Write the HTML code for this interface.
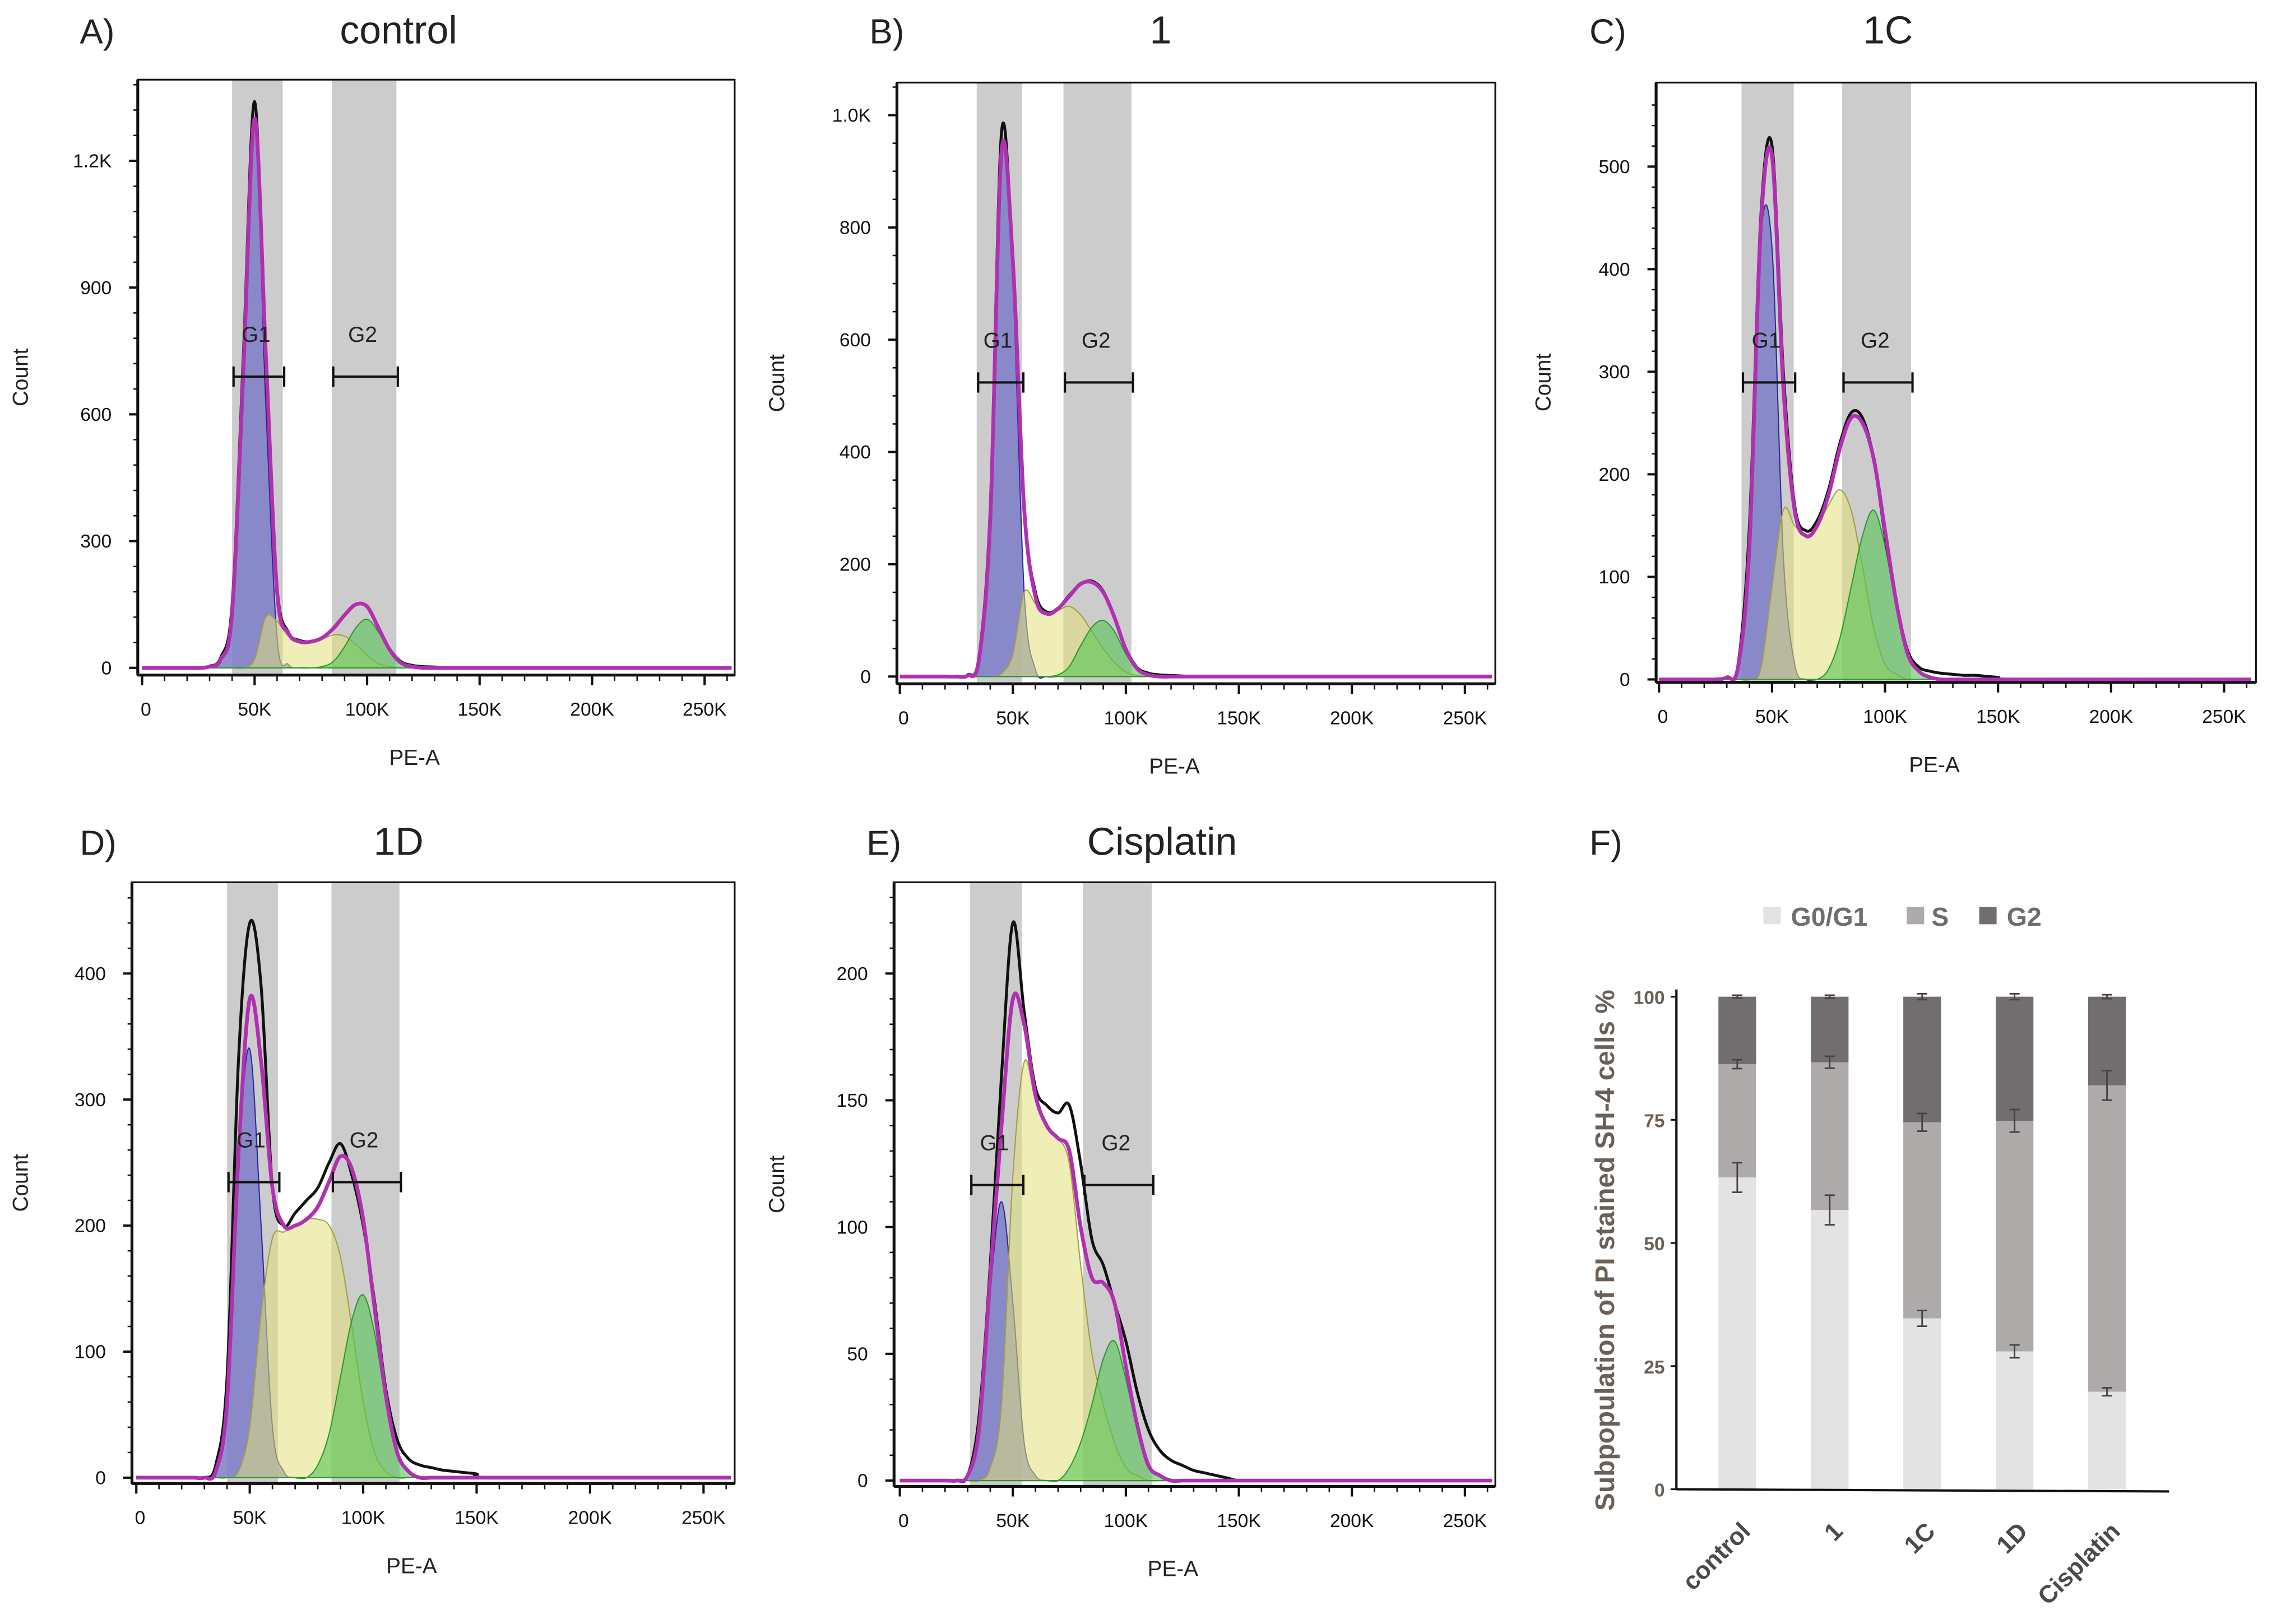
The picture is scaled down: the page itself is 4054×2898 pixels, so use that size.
<!DOCTYPE html>
<html><head><meta charset="utf-8">
<style>
html,body{margin:0;padding:0;background:#fff;}
svg{display:block;font-family:"Liberation Sans",Arial,sans-serif;}
</style></head>
<body>
<svg id="fig" width="4054" height="2898" viewBox="0 0 1568 1121" xmlns="http://www.w3.org/2000/svg"></svg>
<script>
// ---------- histogram data (counts at PE-A bins, K units) ----------
const binsK = [25,30,35,40,45,50,55,60,65,70,75,80,85,90,95,100,105,110,115,120,125,130,135,140,145,150];

const aG1 = [0,3,20,130,700,1280,620,70,8,0,0,0,0,0,0,0,0,0,0,0,0,0,0,0,0,0];
const aS  = [0,0,0,0,0,20,120,110,75,62,62,68,78,75,55,30,10,3,0,0,0,0,0,0,0,0];
const aG2 = [0,0,0,0,0,0,0,0,0,0,0,3,15,50,95,115,85,40,12,3,0,0,0,0,0,0];
const aTotal = [0,4,25,150,740,1340,700,190,85,65,62,70,95,125,150,145,95,45,15,6,3,2,1,0,0,0];

const bG1 = [0,2,30,280,930,700,150,12,0,0,0,0,0,0,0,0,0,0,0,0,0,0,0,0,0,0];
const bS  = [0,0,0,0,5,40,150,130,112,118,125,110,80,50,25,8,2,0,0,0,0,0,0,0,0,0];
const bG2 = [0,0,0,0,0,0,0,0,0,3,18,55,88,100,80,40,12,3,0,0,0,0,0,0,0,0];
const bTotal = [0,3,35,300,970,740,300,150,115,122,145,165,170,152,105,50,16,6,3,2,1,0,0,0,0,0];

const cG1 = [0,2,12,130,430,420,120,15,0,0,0,0,0,0,0,0,0,0,0,0,0,0,0,0,0,0];
const cS  = [0,0,0,0,10,90,165,150,140,150,170,185,165,110,50,15,5,0,0,0,0,0,0,0,0,0];
const cG2 = [0,0,0,0,0,0,0,0,0,0,10,40,90,140,165,130,70,25,8,2,0,0,0,0,0,0];
const cTotal = [0,2,15,150,450,520,300,170,145,155,185,230,260,255,215,140,75,28,12,8,6,5,4,4,3,2];

const dG1 = [0,0,5,60,250,340,200,40,5,0,0,0,0,0,0,0,0,0,0,0,0,0,0,0,0,0];
const dS  = [0,0,0,0,5,40,130,190,195,200,205,205,200,175,120,60,20,5,0,0,0,0,0,0,0,0];
const dG2 = [0,0,0,0,0,0,0,0,0,0,0,10,35,80,125,145,115,60,20,5,0,0,0,0,0,0];
const dTotal = [0,0,10,80,330,440,390,230,200,210,220,230,250,265,240,200,140,70,30,15,10,8,6,5,4,3];

const eG1 = [0,2,20,75,110,70,15,2,0,0,0,0,0,0,0,0,0,0,0,0,0,0,0,0,0,0];
const eS  = [0,0,0,5,30,120,165,150,140,135,125,85,50,30,15,5,2,0,0,0,0,0,0,0,0,0];
const eG2 = [0,0,0,0,0,0,0,0,0,0,5,15,30,48,55,40,20,6,2,0,0,0,0,0,0,0];
const eTotal = [0,2,25,85,160,220,185,155,148,145,148,125,95,85,70,55,35,20,12,8,6,4,3,2,1,0];

// ---------- bar chart data (panel F) ----------
const fCategories = ["control","1","1C","1D","Cisplatin"];
const fG0G1 = [63.3,56.7,34.7,28.0,19.8];
const fS    = [23.0,30.0,39.8,46.8,62.2];
const fG2   = [13.7,13.3,25.5,25.2,18.0];
const fErrG0G1 = [3.0,3.0,1.6,1.3,0.8];
const fErrS    = [0.9,1.2,1.8,2.3,3.0];
const fErrG2   = [0.3,0.3,0.6,0.6,0.4];
const fYTicks = [0,25,50,75,100];

const NS = "http://www.w3.org/2000/svg";
const svg = document.getElementById('fig');
function mk(tag, attrs, parent, text){
  const e = document.createElementNS(NS, tag);
  for (const k in attrs) e.setAttribute(k, attrs[k]);
  if (text !== undefined) e.textContent = text;
  (parent||svg).appendChild(e);
  return e;
}
function smoothPath(pts){
  let d = "M"+pts[0][0].toFixed(2)+","+pts[0][1].toFixed(2);
  for (let i=0;i<pts.length-1;i++){
    const p0=pts[Math.max(0,i-1)], p1=pts[i], p2=pts[i+1], p3=pts[Math.min(pts.length-1,i+2)];
    const c1=[p1[0]+(p2[0]-p0[0])/6, p1[1]+(p2[1]-p0[1])/6];
    const c2=[p2[0]-(p3[0]-p1[0])/6, p2[1]-(p3[1]-p1[1])/6];
    d += " C"+c1[0].toFixed(2)+","+c1[1].toFixed(2)+" "+c2[0].toFixed(2)+","+c2[1].toFixed(2)+" "+p2[0].toFixed(2)+","+p2[1].toFixed(2);
  }
  return d;
}

function panel(cfg){
  const g = mk('g', {}, svg);
  
  
  const [bx0,by0,bx1,by1] = cfg.box;
  const X = k => cfg.x0 + k*cfg.kx;
  const Y = v => cfg.y0 - v*cfg.ky;
  const lt = mk('text',{x:cfg.letterX,y:cfg.titleY,'font-size':24,fill:'#222'},g,cfg.letter);
   
  const tt = mk('text',{x:cfg.titleX,y:cfg.titleY,'font-size':27,fill:'#222','text-anchor':'middle'},g,cfg.title);
   
  [cfg.g1,cfg.g2].forEach((b,i)=>{
    const r = mk('rect',{x:X(b[0]),y:by0,width:X(b[1])-X(b[0]),height:by1-by0,fill:'#cccccc'},g);
    
    
  });
  const pts = arr => { const p=[[X(0),Y(0)],[X(20),Y(0)]]; arr.forEach((v,i)=>p.push([X(binsK[i]),Y(v)])); p.push([X(160),Y(0)]); return p; };
  const area = (arr,fill,stroke,op,name)=>{
    const p = pts(arr);
    const d = smoothPath(p)+" L"+X(160)+","+Y(0)+" L"+X(0)+","+Y(0)+" Z";
    const e = mk('path',{d:d,fill:fill,'fill-opacity':op,stroke:stroke,'stroke-width':0.8},g);
     
  };
  area(cfg.G1,'#7d7dc8','#2a2a9a',0.85,'g1-fit-area');
  area(cfg.S,'#e0e07a','#a0a040',0.55,'s-phase-area');
  area(cfg.G2,'#55c455','#2a9a2a',0.6,'g2-fit-area');
  const tp = pts(cfg.T); tp.push([X(262),Y(0)]);
  const bl = mk('path',{d:smoothPath(tp),fill:'none',stroke:'#111','stroke-width':2},g);
   
  const sum = cfg.G1.map((v,i)=>v+cfg.S[i]+cfg.G2[i]);
  const mp = pts(sum); mp.push([X(262),Y(0)]);
  const ml = mk('path',{d:smoothPath(mp),fill:'none',stroke:'#b030b0','stroke-width':2.6},g);
   
  const bxr = mk('rect',{x:bx0,y:by0,width:bx1-bx0,height:by1-by0,fill:'none',stroke:'#111','stroke-width':1.2},g);
   
  mk('line',{x1:bx0,y1:by0,x2:bx0,y2:by1,stroke:'#111','stroke-width':2},g);
  mk('line',{x1:bx0,y1:by1,x2:bx1,y2:by1,stroke:'#111','stroke-width':2},g);
  [[cfg.g1,'G1'],[cfg.g2,'G2']].forEach(([b,lab])=>{
    const xa=X(b[0])+1, xb=X(b[1])+1;
    const gl = mk('path',{d:`M${xa},${cfg.barY} H${xb} M${xa},${cfg.barY-7} V${cfg.barY+7} M${xb},${cfg.barY-7} V${cfg.barY+7}`,stroke:'#111','stroke-width':1.6,fill:'none'},g);
     
    const gt = mk('text',{x:(xa+xb)/2-2,y:cfg.barY-24,'font-size':15,'text-anchor':'middle',fill:'#222'},g,lab);
     
  });
  cfg.yticks.forEach((v,i)=>{
    mk('line',{x1:bx0-6,y1:Y(v),x2:bx0,y2:Y(v),stroke:'#111','stroke-width':1.6},g);
    const t = mk('text',{x:bx0-18,y:Y(v)+4.5,'font-size':13,'text-anchor':'end',fill:'#111'},g,cfg.ylabels[i]);
     
  });
  for (let v=cfg.yminor; Y(v)>by0+2; v+=cfg.yminor){
    mk('line',{x1:bx0-3,y1:Y(v),x2:bx0,y2:Y(v),stroke:'#111','stroke-width':1},g);
  }
  const xlabels=["0","50K","100K","150K","200K","250K"];
  [0,50,100,150,200,250].forEach((k,i)=>{
    mk('line',{x1:X(k),y1:by1,x2:X(k),y2:by1+7,stroke:'#111','stroke-width':1.6},g);
    const t=mk('text',{x:X(k)+(i?0:-1),y:by1+28,'font-size':13,'text-anchor':i?'middle':'start',fill:'#111'},g,xlabels[i]);
     
  });
  for (let k=10;k<=260;k+=10){ if(k%50) mk('line',{x1:X(k),y1:by1,x2:X(k),y2:by1+4,stroke:'#111','stroke-width':1},g); }
  const xt = mk('text',{x:(bx0+bx1)/2-15,y:by1+62,'font-size':15,'text-anchor':'middle',fill:'#222'},g,'PE-A');
   
  const cy=(by0+by1)/2;
  const yt = mk('text',{x:cfg.countX,y:cy,'font-size':15,'text-anchor':'middle',fill:'#222',transform:`rotate(-90 ${cfg.countX} ${cy})`},g,'Count');
   
}

panel({name:'panel-a-control',letter:'A)',letterX:55,title:'control',titleX:275,titleY:30,box:[95,55,507,466],x0:98,kx:1.553,y0:461,ky:87.5/300,
  yticks:[0,300,600,900,1200],ylabels:["0","300","600","900","1.2K"],yminor:60,g1:[40,62.5],g2:[84.3,113],barY:260,countX:19,
  G1:aG1,S:aS,G2:aG2,T:aTotal});
panel({name:'panel-b-1',letter:'B)',letterX:600,title:'1',titleX:801,titleY:30,box:[619,57,1032,472],x0:621,kx:1.56,y0:467,ky:77.5/200,
  yticks:[0,200,400,600,800,1000],ylabels:["0","200","400","600","800","1.0K"],yminor:50,g1:[34,54],g2:[72.4,102.5],barY:264,countX:541,
  G1:bG1,S:bS,G2:bG2,T:bTotal});
panel({name:'panel-c-1c',letter:'C)',letterX:1097,title:'1C',titleX:1303,titleY:30,box:[1143,57,1557,471],x0:1145,kx:1.56,y0:469,ky:70.8/100,
  yticks:[0,100,200,300,400,500],ylabels:["0","100","200","300","400","500"],yminor:20,g1:[36.5,59.6],g2:[81,111.5],barY:264,countX:1070,
  G1:cG1,S:cS,G2:cG2,T:cTotal});
panel({name:'panel-d-1d',letter:'D)',letterX:55,title:'1D',titleX:275,titleY:590,box:[91,609,507,1024],x0:94,kx:1.566,y0:1020,ky:87/100,
  yticks:[0,100,200,300,400],ylabels:["0","100","200","300","400"],yminor:20,g1:[40,62.4],g2:[86,116],barY:816,countX:19,
  G1:dG1,S:dS,G2:dG2,T:dTotal});
panel({name:'panel-e-cisplatin',letter:'E)',letterX:598,title:'Cisplatin',titleX:802,titleY:590,box:[617,609,1032,1026],x0:621,kx:1.56,y0:1022,ky:87.5/50,
  yticks:[0,50,100,150,200],ylabels:["0","50","100","150","200"],yminor:10,g1:[31,54],g2:[81,111.5],barY:818,countX:541,
  G1:eG1,S:eS,G2:eG2,T:eTotal});

// ---------- panel F stacked bars ----------
(function(){
  const g = mk('g',{},svg);
  
  
  const ax0=1157, ay0=1028, ay100=688, axEnd=1497;
  const Yf = v => ay0 - v*(ay0-ay100)/100;
  const centers0 = 1199, step = 63.8;
  const Xf = i => centers0 + i*step;
  const bw = 26;
  const lt = mk('text',{x:1097,y:590,'font-size':24,fill:'#222'},g,'F)');
   
  const colors=['#e3e3e3','#aeaaa9','#726e6f'];
  fCategories.forEach((c,i)=>{
    const segs=[fG0G1[i],fS[i],fG2[i]]; let base=0;
    const names=['bar-g0g1','bar-s','bar-g2'];
    segs.forEach((v,j)=>{
      const r=mk('rect',{x:Xf(i)-bw/2,y:Yf(base+v),width:bw,height:Yf(base)-Yf(base+v),fill:colors[j]},g);
       
      base+=v;
    });
    const errs=[[fG0G1[i],fErrG0G1[i]],[fG0G1[i]+fS[i],fErrS[i]],[fG0G1[i]+fS[i]+fG2[i],fErrG2[i]]];
    errs.forEach(([v,e])=>{
      const eb=mk('path',{d:`M${Xf(i)},${Yf(v+e)} V${Yf(v-e)} M${Xf(i)-3.5},${Yf(v+e)} H${Xf(i)+3.5} M${Xf(i)-3.5},${Yf(v-e)} H${Xf(i)+3.5}`,stroke:'#444','stroke-width':1.1,fill:'none'},g);
       
    });
    const lx=Xf(i)+10, ly=1058;
    const t=mk('text',{x:lx,y:ly,'font-size':17,'font-weight':'bold','text-anchor':'end',fill:'#4a4a4a',transform:`rotate(-45 ${lx} ${ly})`},g,c);
     
  });
  mk('line',{x1:ax0,y1:ay100-5,x2:ax0,y2:ay0,stroke:'#111','stroke-width':1.6},g);
  mk('line',{x1:ax0,y1:ay0,x2:axEnd,y2:ay0+1.5,stroke:'#111','stroke-width':1.6},g);
  fYTicks.forEach(v=>{
    mk('line',{x1:ax0-4,y1:Yf(v),x2:ax0,y2:Yf(v),stroke:'#111','stroke-width':1.2},g);
    const t=mk('text',{x:ax0-8,y:Yf(v)+5,'font-size':13,'font-weight':'bold','text-anchor':'end',fill:'#6b6057'},g,String(v));
     
  });
  const cy=(ay0+ay100)/2+5;
  const yt=mk('text',{x:1114,y:cy,'font-size':18.5,'font-weight':'bold','text-anchor':'middle',fill:'#6b6057',transform:`rotate(-90 1114 ${cy})`},g,'Subpopulation of PI stained SH-4 cells %');
   
  const leg=[['G0/G1',1217,1236],['S',1316,1333],['G2',1366,1385]];
  leg.forEach(([lab,sx,tx],j)=>{
    const s=mk('rect',{x:sx,y:626,width:12,height:12,fill:colors[j]},g);
     
    const t=mk('text',{x:tx,y:639,'font-size':18,'font-weight':'bold',fill:'#6e6e6e'},g,lab);
     
  });
})();
</script>
</body></html>
